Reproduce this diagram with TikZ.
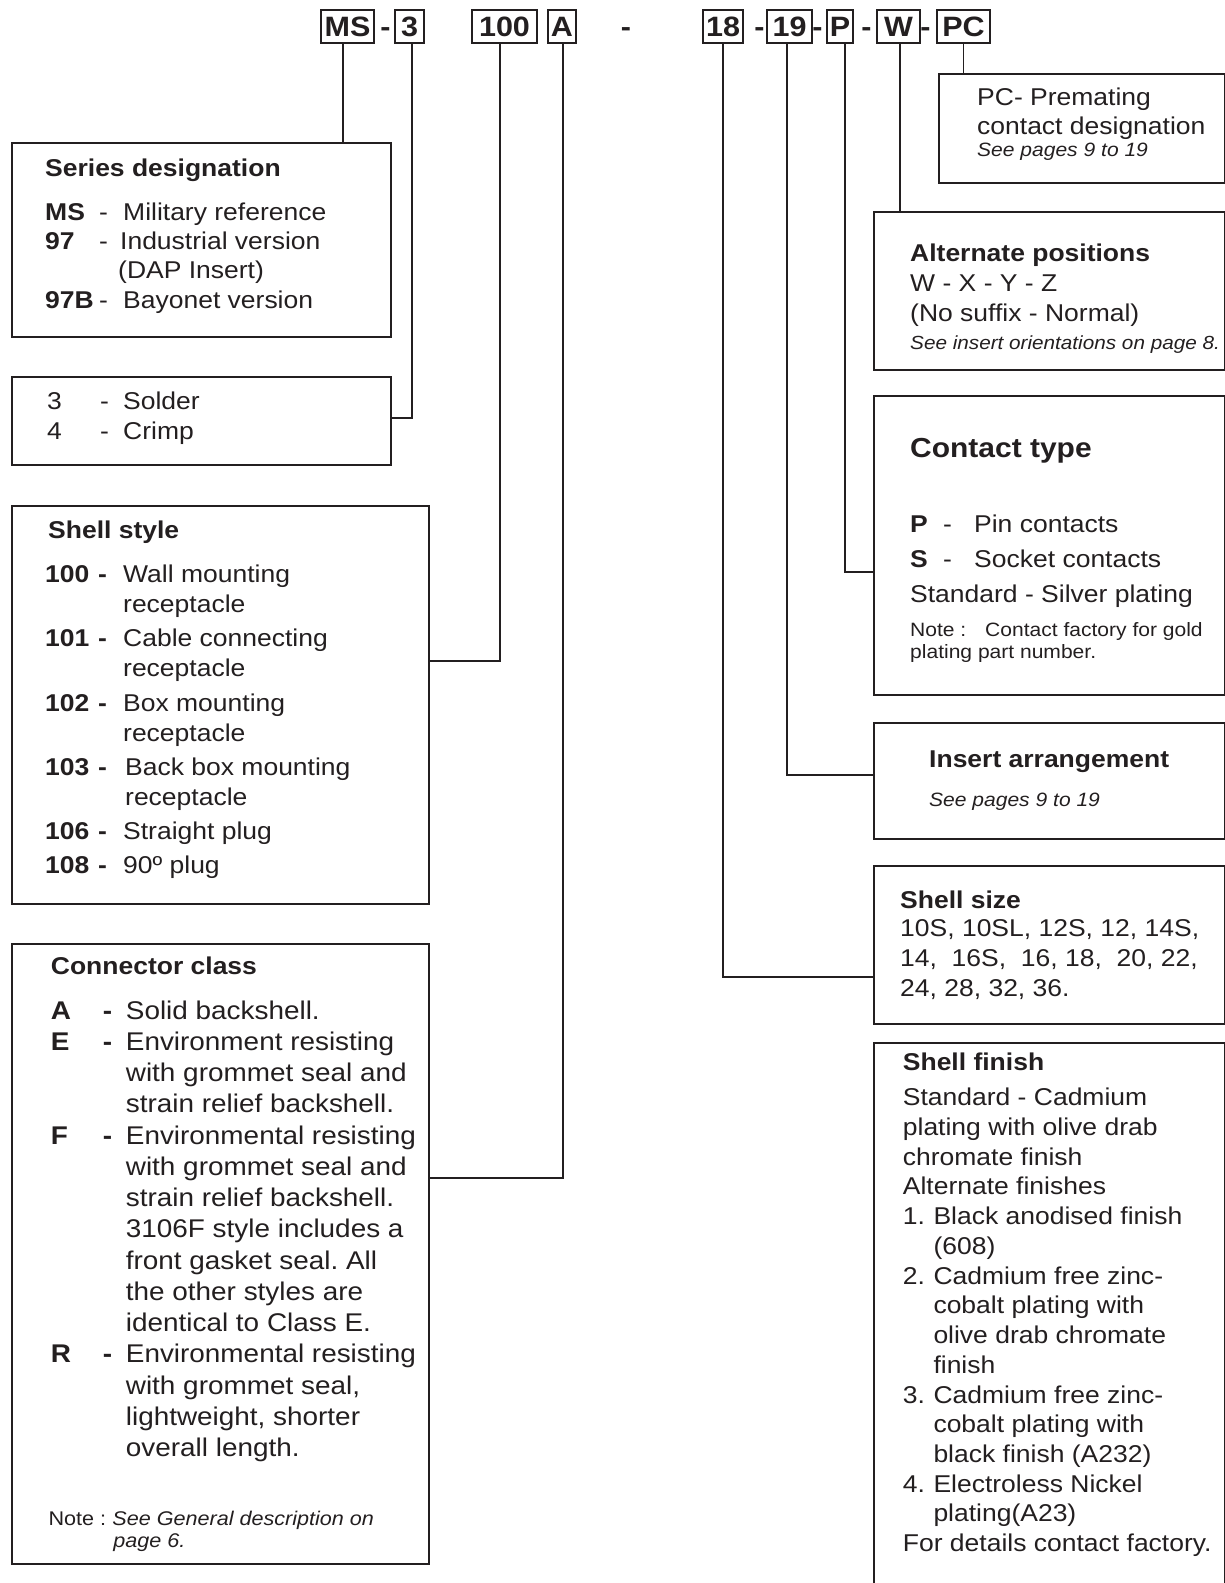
\documentclass[tikz,border=0pt]{standalone}
\usepackage{fontspec}
\setmainfont{Liberation Sans}[FakeStretch=1.09]
\usepackage{array}
\usetikzlibrary{positioning}
\definecolor{ink}{HTML}{231F20}
\frenchspacing
\tikzset{
  codebox/.style={
    draw=ink,
    line width=1.8pt,
    inner sep=0pt,
    minimum height=33pt,
    text height=20pt,
    text depth=0pt,
    font=\bfseries\fontsize{28}{30}\selectfont
  },
  codedash/.style={
    anchor=base,
    inner sep=0pt,
    font=\bfseries\fontsize{28}{30}\selectfont
  },
  infobox/.style={
    draw=ink,
    line width=1.8pt,
    inner sep=0pt,
    anchor=north west
  },
  headtext/.style={
    anchor=base west,
    inner sep=0pt,
    font=\bfseries\fontsize{24.3}{29.7}\selectfont
  },
  bodytext/.style={
    anchor=base west,
    inner sep=0pt,
    font=\fontsize{24.3}{29.7}\selectfont
  },
  smalltext/.style={
    anchor=base west,
    inner sep=0pt,
    font=\fontsize{19.3}{22.3}\selectfont
  },
  wire/.style={
    draw=ink,
    line width=1.8pt
  }
}

\begin{document}
\begin{tikzpicture}[x=1pt, y=-1pt, every node/.append style={text=ink}]
  \fill[white] (0,0) rectangle (1225,1583);
  \useasboundingbox (0,0) rectangle (1225,1583);

  % part number code
  \node[codebox, minimum width=53pt] (msbox) at (347.5,26.5) {MS};
  \node[codebox, minimum width=29pt] (termbox) at (409.5,26.5) {3};
  \node[codebox, minimum width=65pt] (shellbox) at (504.5,26.5) {100};
  \node[codebox, minimum width=28pt] (classbox) at (562,26.5) {A};
  \node[codebox, minimum width=40pt] (sizebox) at (723,26.5) {18};
  \node[codebox, minimum width=45pt] (arrbox) at (789.5,26.5) {19};
  \node[codebox, minimum width=26pt] (contbox) at (840,26.5) {P};
  \node[codebox, minimum width=43pt] (posbox) at (898.5,26.5) {W};
  \node[codebox, minimum width=53pt] (pcbox) at (963.5,26.5) {PC};
  \foreach \dx/\dn in {385.5/dashA, 626/dashB, 759.5/dashC, 817.5/dashD, 866.5/dashE, 925.5/dashF}
    \node[codedash] (\dn) at (\dx,36.5) {-};

  % left column
  \node[infobox, minimum width=379pt, minimum height=194pt] (series) at (11,142) {};
  \node[headtext] (seriestitle) at (45,176.7) {Series designation};
  \node[bodytext, font=\fontsize{24.3}{29.4}\selectfont] (serieslist) at (45,220) {\begin{tabular}[t]{@{}p{54pt}@{}p{24pt}@{}l@{}}
    \textbf{MS} & - & Military reference\\
    \textbf{97} & - & \hspace*{-3pt}Industrial version\\
     & & \hspace*{-5pt}(DAP Insert)\\
    \textbf{97B} & - & Bayonet version
  \end{tabular}};

  \node[infobox, minimum width=379pt, minimum height=88pt] (termination) at (11,376) {};
  \node[bodytext, font=\fontsize{24.3}{30}\selectfont] (termlist) at (47,409.3) {\begin{tabular}[t]{@{}p{53pt}@{}p{23pt}@{}l@{}}
    3 & - & Solder\\
    4 & - & Crimp
  \end{tabular}};

  \node[infobox, minimum width=417pt, minimum height=398pt] (shellstyle) at (11,505) {};
  \node[headtext] (shelltitle) at (48,538.3) {Shell style};
  \node[bodytext, font=\fontsize{24.3}{30}\selectfont] (shelllist) at (45,582.7) {\begin{tabular}[t]{@{}p{53pt}@{}p{25pt}@{}l@{}}
    \textbf{100} & \textbf{-} & Wall mounting\\
     & & receptacle\\[4.2pt]
    \textbf{101} & \textbf{-} & Cable connecting\\
     & & receptacle\\[4.2pt]
    \textbf{102} & \textbf{-} & Box mounting\\
     & & receptacle\\[4.2pt]
    \textbf{103} & \textbf{-} & \hspace*{2pt}Back box mounting\\
     & & \hspace*{2pt}receptacle\\[4.2pt]
    \textbf{106} & \textbf{-} & Straight plug\\[4.2pt]
    \textbf{108} & \textbf{-} & 90º plug
  \end{tabular}};

  \node[infobox, minimum width=417pt, minimum height=620pt] (connclass) at (11,943) {};
  \node[headtext] (classtitle) at (50.7,974) {Connector class};
  \node[bodytext, font=\fontsize{25.6}{31.26}\selectfont] (classlist) at (50.7,1019) {\begin{tabular}[t]{@{}p{52pt}@{}p{23pt}@{}l@{}}
    \textbf{A} & \textbf{-} & Solid backshell.\\
    \textbf{E} & \textbf{-} & Environment resisting\\
     & & with grommet seal and\\
     & & strain relief backshell.\\
    \textbf{F} & \textbf{-} & Environmental resisting\\
     & & with grommet seal and\\
     & & strain relief backshell.\\
     & & 3106F style includes a\\
     & & front gasket seal. All\\
     & & the other styles are\\
     & & identical to Class E.\\
    \textbf{R} & \textbf{-} & Environmental resisting\\
     & & with grommet seal,\\
     & & lightweight, shorter\\
     & & overall length.
  \end{tabular}};
  \node[smalltext, font=\fontsize{19.8}{22.3}\selectfont] (classnote) at (48.3,1525) {\begin{tabular}[t]{@{}p{64pt}@{}l@{}}
    Note : & \textit{See General description on}\\
     & \hspace*{1pt}\textit{page 6.}
  \end{tabular}};

  % right column
  \node[infobox, minimum width=286pt, minimum height=109pt] (premating) at (938,73) {};
  \node[bodytext, font=\fontsize{24.3}{29.5}\selectfont] (pctext) at (977,105) {\begin{tabular}[t]{@{}l@{}}
    PC- Premating\\
    contact designation
  \end{tabular}};
  \node[smalltext] (pcnote) at (977,156.7) {\textit{See pages 9 to 19}};

  \node[infobox, minimum width=351pt, minimum height=158pt] (altpos) at (873,211) {};
  \node[headtext] (alttitle) at (910,261.7) {Alternate positions};
  \node[bodytext, font=\fontsize{24.3}{30}\selectfont] (altlist) at (910,291.7) {\begin{tabular}[t]{@{}l@{}}
    W - X - Y - Z\\
    (No suffix - Normal)
  \end{tabular}};
  \node[smalltext, font=\fontsize{19}{22}\selectfont] (altnote) at (910,349.3) {\textit{See insert orientations on page 8.}};

  \node[infobox, minimum width=351pt, minimum height=299pt] (contact) at (873,395) {};
  \node[headtext, font=\bfseries\fontsize{27.5}{30}\selectfont] (conttitle) at (910,457.3) {Contact type};
  \node[bodytext, font=\fontsize{24.3}{35}\selectfont] (contlist) at (910,532.7) {\begin{tabular}[t]{@{}p{33pt}@{}p{31pt}@{}l@{}}
    \textbf{P} & - & Pin contacts\\
    \textbf{S} & - & Socket contacts\\
    \multicolumn{3}{@{}l@{}}{Standard - Silver plating}
  \end{tabular}};
  \node[smalltext] (contnote) at (910,636) {\begin{tabular}[t]{@{}l@{}}
    \makebox[75pt][l]{Note :}Contact factory for gold\\
    plating part number.
  \end{tabular}};

  \node[infobox, minimum width=351pt, minimum height=116pt] (insert) at (873,722) {};
  \node[headtext] (arrtitle) at (929,767.3) {Insert arrangement};
  \node[smalltext] (arrnote) at (929,806.7) {\textit{See pages 9 to 19}};

  \node[infobox, minimum width=351pt, minimum height=158pt] (shellsize) at (873,865) {};
  \node[headtext] (sizetitle) at (900,908.3) {Shell size};
  \node[bodytext] (sizelist) at (900,936.7) {\begin{tabular}[t]{@{}l@{}}
    10S, 10SL, 12S, 12, 14S,\\
    14,\ \ 16S,\ \ 16, 18,\ \ 20, 22,\\
    24, 28, 32, 36.
  \end{tabular}};

  % open at the bottom edge of the page
  \node[infobox, minimum width=351pt, minimum height=570pt] (finish) at (873,1042) {};
  \node[headtext] (finishtitle) at (902.7,1070) {Shell finish};
  \node[bodytext, font=\fontsize{24.3}{29.73}\selectfont] (finishlist) at (902.7,1105.7) {\begin{tabular}[t]{@{}p{30.6pt}@{}l@{}}
    \multicolumn{2}{@{}l@{}}{Standard - Cadmium}\\
    \multicolumn{2}{@{}l@{}}{plating with olive drab}\\
    \multicolumn{2}{@{}l@{}}{chromate finish}\\
    \multicolumn{2}{@{}l@{}}{Alternate finishes}\\
    1. & Black anodised finish\\
     & (608)\\
    2. & Cadmium free zinc-\\
     & cobalt plating with\\
     & olive drab chromate\\
     & finish\\
    3. & Cadmium free zinc-\\
     & cobalt plating with\\
     & black finish (A232)\\
    4. & Electroless Nickel\\
     & plating(A23)\\
    \multicolumn{2}{@{}l@{}}{For details contact factory.}
  \end{tabular}};

  % leaders
  \draw[wire] ([xshift=-4.5pt]msbox.south) -- ([xshift=-4.5pt]msbox.south |- series.north);
  \draw[wire] ([xshift=2.5pt]termbox.south) |- ([yshift=3pt]termination.east);
  \draw[wire] ([xshift=-4.5pt]shellbox.south) |- ([yshift=44pt]shellstyle.east);
  \draw[wire] ([xshift=1pt]classbox.south) |- ([yshift=76pt]connclass.east);
  \draw[wire] (sizebox.south) |- ([yshift=-32pt]shellsize.west);
  \draw[wire] ([xshift=-2.5pt]arrbox.south) |- ([yshift=6pt]insert.west);
  \draw[wire] ([xshift=5pt]contbox.south) |- ([yshift=-26.5pt]contact.west);
  \draw[wire] ([xshift=1.5pt]posbox.south) -- ([xshift=1.5pt]posbox.south |- altpos.north);
  \draw[wire] (pcbox.south) -- (pcbox.south |- premating.north);
\end{tikzpicture}
\end{document}
